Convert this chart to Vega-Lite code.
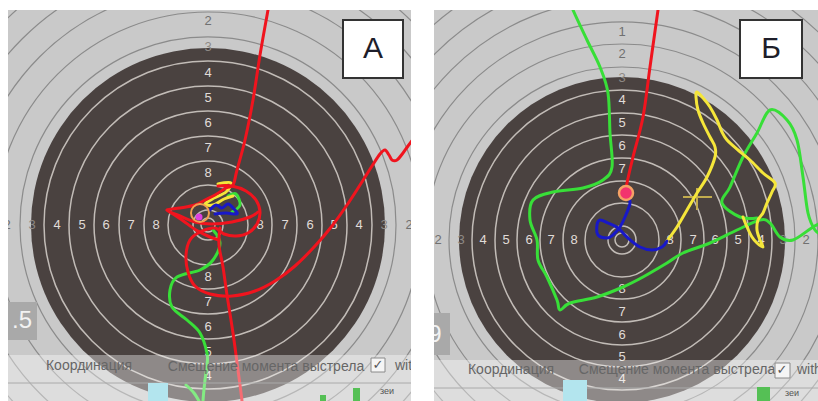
{
"$schema":"https://vega.github.io/schema/vega-lite/v6.json",
"background":"#ffffff",
"padding":{"left":8,"top":10,"right":0,"bottom":0},
"spacing":23,
"config":{"view":{"stroke":null,"fill":"#c9c9c9"},"text":{"font":"Liberation Sans"}},
"datasets":{
"ringsA":[{"x":0,"y":0,"r":7,"z":"in"},{"x":0,"y":0,"r":15,"z":"in"},{"x":0,"y":0,"r":40,"z":"in"},{"x":0,"y":0,"r":64,"z":"in"},{"x":0,"y":0,"r":89,"z":"in"},{"x":0,"y":0,"r":114,"z":"in"},{"x":0,"y":0,"r":139,"z":"in"},{"x":0,"y":0,"r":164,"z":"in"},{"x":0,"y":0,"r":188,"z":"out"},{"x":0,"y":0,"r":213,"z":"out"},{"x":0,"y":0,"r":238,"z":"out"},{"x":0,"y":0,"r":263,"z":"out"},{"x":0,"y":0,"r":288,"z":"out"}],
"ringsB":[{"x":0,"y":0,"r":7,"z":"in"},{"x":0,"y":0,"r":14,"z":"in"},{"x":0,"y":0,"r":37,"z":"in"},{"x":0,"y":0,"r":59,"z":"in"},{"x":0,"y":0,"r":82,"z":"in"},{"x":0,"y":0,"r":105,"z":"in"},{"x":0,"y":0,"r":127,"z":"in"},{"x":0,"y":0,"r":150,"z":"in"},{"x":0,"y":0,"r":173,"z":"out"},{"x":0,"y":0,"r":196,"z":"out"},{"x":0,"y":0,"r":218,"z":"out"},{"x":0,"y":0,"r":241,"z":"out"},{"x":0,"y":0,"r":264,"z":"out"},{"x":0,"y":0,"r":286,"z":"out"}],
"labelsA":[
{"x":-52,"y":0,"t":"8","z":"in"},{"x":-77,"y":0,"t":"7","z":"in"},{"x":-102,"y":0,"t":"6","z":"in"},{"x":-126,"y":0,"t":"5","z":"in"},{"x":-151,"y":0,"t":"4","z":"in"},{"x":-176,"y":0,"t":"3","z":"edge"},{"x":-201,"y":0,"t":"2","z":"out"},
{"x":52,"y":0,"t":"8","z":"in"},{"x":77,"y":0,"t":"7","z":"in"},{"x":102,"y":0,"t":"6","z":"in"},{"x":126,"y":0,"t":"5","z":"in"},{"x":151,"y":0,"t":"4","z":"in"},{"x":176,"y":0,"t":"3","z":"edge"},{"x":201,"y":0,"t":"2","z":"out"},
{"x":0,"y":52,"t":"8","z":"in"},{"x":0,"y":77,"t":"7","z":"in"},{"x":0,"y":102,"t":"6","z":"in"},{"x":0,"y":127,"t":"5","z":"in"},{"x":0,"y":152,"t":"4","z":"in"},{"x":0,"y":178,"t":"3","z":"edge"},{"x":0,"y":204,"t":"2","z":"out"},
{"x":0,"y":-52,"t":"8","z":"in"},{"x":0,"y":-77,"t":"7","z":"in"},{"x":0,"y":-102,"t":"6","z":"in"},{"x":0,"y":-127,"t":"5","z":"in"},{"x":0,"y":-151,"t":"4","z":"in"}],
"labelsB":[
{"x":-48,"y":0,"t":"8","z":"in"},{"x":-71,"y":0,"t":"7","z":"in"},{"x":-93,"y":0,"t":"6","z":"in"},{"x":-116,"y":0,"t":"5","z":"in"},{"x":-139,"y":0,"t":"4","z":"in"},{"x":-161,"y":0,"t":"3","z":"edge"},{"x":-184,"y":0,"t":"2","z":"out"},
{"x":48,"y":0,"t":"8","z":"in"},{"x":71,"y":0,"t":"7","z":"in"},{"x":93,"y":0,"t":"6","z":"in"},{"x":116,"y":0,"t":"5","z":"in"},{"x":139,"y":0,"t":"4","z":"in"},{"x":161,"y":0,"t":"3","z":"edge"},{"x":184,"y":0,"t":"2","z":"out"},
{"x":0,"y":48,"t":"8","z":"in"},{"x":0,"y":71,"t":"7","z":"in"},{"x":0,"y":94,"t":"6","z":"in"},{"x":0,"y":117,"t":"5","z":"in"},{"x":0,"y":140,"t":"4","z":"in"},{"x":0,"y":162,"t":"3","z":"edge"},{"x":0,"y":186,"t":"2","z":"out"},{"x":0,"y":208,"t":"1","z":"out"},
{"x":0,"y":-49,"t":"8","z":"in"},{"x":0,"y":-72,"t":"7","z":"in"},{"x":0,"y":-95,"t":"6","z":"in"},{"x":0,"y":-117,"t":"5","z":"in"},{"x":0,"y":-139,"t":"4","z":"in"}],
"aRed":[
{"s":1,"x":62,"y":225},{"s":1,"x":60,"y":215},{"s":1,"x":52,"y":170},{"s":1,"x":45,"y":125},{"s":1,"x":37,"y":85},{"s":1,"x":29,"y":55},{"s":1,"x":25,"y":40},{"s":1,"x":18,"y":37},{"s":1,"x":7,"y":30},{"s":1,"x":-3,"y":25},{"s":1,"x":-13,"y":20},{"s":1,"x":-28,"y":17},{"s":1,"x":-41,"y":15},{"s":1,"x":-28,"y":9},{"s":1,"x":-13,"y":3},{"s":1,"x":4,"y":1},{"s":1,"x":24,"y":3},{"s":1,"x":42,"y":8},{"s":1,"x":50,"y":13},
{"s":2,"x":10,"y":39},{"s":2,"x":24,"y":39},{"s":2,"x":38,"y":34},{"s":2,"x":48,"y":25},{"s":2,"x":52,"y":13},{"s":2,"x":49,"y":1},{"s":2,"x":40,"y":-8},{"s":2,"x":28,"y":-11},{"s":2,"x":16,"y":-9},{"s":2,"x":7,"y":-3},{"s":2,"x":-8,"y":-7},{"s":2,"x":-18,"y":-15},{"s":2,"x":-22,"y":-30},{"s":2,"x":-20,"y":-47},{"s":2,"x":-13,"y":-61},{"s":2,"x":2,"y":-69},{"s":2,"x":24,"y":-71},{"s":2,"x":47,"y":-66},{"s":2,"x":67,"y":-56},{"s":2,"x":87,"y":-41},{"s":2,"x":107,"y":-21},{"s":2,"x":124,"y":-1},{"s":2,"x":139,"y":20},{"s":2,"x":152,"y":40},{"s":2,"x":164,"y":59},{"s":2,"x":172,"y":71},{"s":2,"x":177,"y":75},{"s":2,"x":181,"y":70},{"s":2,"x":184,"y":65},{"s":2,"x":189,"y":65},{"s":2,"x":195,"y":72},{"s":2,"x":200,"y":79},{"s":2,"x":206,"y":87},
{"s":3,"x":-41,"y":15},{"s":3,"x":-26,"y":5},{"s":3,"x":-12,"y":-5},{"s":3,"x":2,"y":-12},{"s":3,"x":11,"y":-15},
{"s":4,"x":12,"y":-3},{"s":4,"x":11,"y":-20},{"s":4,"x":15,"y":-42},{"s":4,"x":19,"y":-70},{"s":4,"x":25,"y":-108},{"s":4,"x":30,"y":-145},{"s":4,"x":34,"y":-176},{"s":4,"x":35,"y":-190}],
"aGreen":[
{"s":1,"x":5,"y":-5},{"s":1,"x":12,"y":-18},{"s":1,"x":5,"y":-35},{"s":1,"x":-8,"y":-45},{"s":1,"x":-31,"y":-52},{"s":1,"x":-38,"y":-65},{"s":1,"x":-36,"y":-82},{"s":1,"x":-21,"y":-95},{"s":1,"x":-8,"y":-108},{"s":1,"x":-1,"y":-128},{"s":1,"x":-1,"y":-140},{"s":1,"x":-3,"y":-155},{"s":1,"x":-5,"y":-176},{"s":1,"x":-5,"y":-190},
{"s":2,"x":-22,"y":-160},{"s":2,"x":-14,"y":-168},{"s":2,"x":-8,"y":-178},
{"s":3,"x":20,"y":29},{"s":3,"x":28,"y":31},{"s":3,"x":32,"y":20},{"s":3,"x":24,"y":13}],
"aYellow":[{"s":1,"x":10,"y":41},{"s":1,"x":23,"y":42},{"s":1,"x":18,"y":33},{"s":1,"x":6,"y":27},{"s":1,"x":-3,"y":21},{"s":1,"x":5,"y":20},{"s":1,"x":16,"y":26},{"s":1,"x":25,"y":29}],
"aBlue":[{"s":1,"x":2,"y":15},{"s":1,"x":8,"y":20},{"s":1,"x":14,"y":17},{"s":1,"x":20,"y":21},{"s":1,"x":26,"y":16},{"s":1,"x":29,"y":11},{"s":1,"x":18,"y":12},{"s":1,"x":7,"y":11}],
"bRed":[{"s":1,"x":38,"y":240},{"s":1,"x":36,"y":230},{"s":1,"x":28,"y":173},{"s":1,"x":21,"y":123},{"s":1,"x":11,"y":83},{"s":1,"x":5,"y":57},{"s":1,"x":4,"y":47}],
"bBlue":[{"s":1,"x":5,"y":45},{"s":1,"x":8,"y":37},{"s":1,"x":3,"y":23},{"s":1,"x":-2,"y":13},{"s":1,"x":-9,"y":5},{"s":1,"x":-15,"y":2},{"s":1,"x":-24,"y":5},{"s":1,"x":-25,"y":15},{"s":1,"x":-22,"y":20},{"s":1,"x":-14,"y":17},{"s":1,"x":-4,"y":12},{"s":1,"x":6,"y":2},{"s":1,"x":18,"y":-7},{"s":1,"x":30,"y":-10},{"s":1,"x":40,"y":-7},{"s":1,"x":45,"y":-1}],
"bYellow":[{"s":1,"x":45,"y":-1},{"s":1,"x":55,"y":13},{"s":1,"x":65,"y":30},{"s":1,"x":75,"y":47},{"s":1,"x":85,"y":63},{"s":1,"x":93,"y":83},{"s":1,"x":93,"y":93},{"s":1,"x":88,"y":103},{"s":1,"x":81,"y":117},{"s":1,"x":76,"y":130},{"s":1,"x":74,"y":143},{"s":1,"x":75,"y":148},{"s":1,"x":81,"y":142},{"s":1,"x":88,"y":133},{"s":1,"x":95,"y":120},{"s":1,"x":100,"y":108},{"s":1,"x":105,"y":100},{"s":1,"x":116,"y":90},{"s":1,"x":128,"y":80},{"s":1,"x":141,"y":67},{"s":1,"x":153,"y":57},{"s":1,"x":150,"y":48},{"s":1,"x":145,"y":37},{"s":1,"x":141,"y":27},{"s":1,"x":136,"y":20},{"s":1,"x":135,"y":10},{"s":1,"x":138,"y":0},{"s":1,"x":141,"y":-7},{"s":1,"x":135,"y":-3},{"s":1,"x":130,"y":3},{"s":1,"x":125,"y":13},{"s":1,"x":121,"y":23}],
"bGreen":[
{"s":1,"x":-52,"y":240},{"s":1,"x":-49,"y":230},{"s":1,"x":-35,"y":200},{"s":1,"x":-22,"y":173},{"s":1,"x":-14,"y":147},{"s":1,"x":-12,"y":107},{"s":1,"x":-10,"y":73},{"s":1,"x":-19,"y":60},{"s":1,"x":-39,"y":52},{"s":1,"x":-69,"y":48},{"s":1,"x":-89,"y":40},{"s":1,"x":-92,"y":20},{"s":1,"x":-85,"y":0},{"s":1,"x":-84,"y":-20},{"s":1,"x":-75,"y":-37},{"s":1,"x":-65,"y":-60},{"s":1,"x":-62,"y":-70},{"s":1,"x":-52,"y":-63},{"s":1,"x":-25,"y":-57},{"s":1,"x":1,"y":-47},{"s":1,"x":21,"y":-37},{"s":1,"x":45,"y":-23},{"s":1,"x":61,"y":-13},{"s":1,"x":88,"y":-3},{"s":1,"x":115,"y":10},{"s":1,"x":138,"y":20},{"s":1,"x":148,"y":17},{"s":1,"x":158,"y":3},{"s":1,"x":171,"y":0},{"s":1,"x":191,"y":13},{"s":1,"x":200,"y":17},
{"s":2,"x":135,"y":22},{"s":2,"x":118,"y":23},{"s":2,"x":100,"y":37},{"s":2,"x":108,"y":53},{"s":2,"x":121,"y":83},{"s":2,"x":135,"y":107},{"s":2,"x":148,"y":130},{"s":2,"x":165,"y":120},{"s":2,"x":175,"y":100},{"s":2,"x":181,"y":63},{"s":2,"x":186,"y":27},{"s":2,"x":193,"y":10},{"s":2,"x":200,"y":6}]
},
"hconcat":[
{
"width":403,"height":391,
"encoding":{
"x":{"field":"x","type":"quantitative","axis":null,"scale":{"domain":[-200,203],"nice":false,"zero":false}},
"y":{"field":"y","type":"quantitative","axis":null,"scale":{"domain":[-176,215],"nice":false,"zero":false}}},
"layer":[
{"data":{"values":[{"x":0,"y":0,"r":177}]},"mark":{"type":"point","shape":"circle","filled":true,"color":"#4a4240","opacity":1,"strokeWidth":0,"clip":true},
 "encoding":{"size":{"field":"r","type":"quantitative","legend":null,"scale":{"type":"pow","exponent":2,"domain":[0,300],"range":[0,360000]}}}},
{"data":{"name":"ringsA"},"transform":[{"filter":"datum.z==='in'"}],"mark":{"type":"point","shape":"circle","filled":false,"color":"#c2bcb7","opacity":1,"strokeWidth":1.5,"clip":true},
 "encoding":{"size":{"field":"r","type":"quantitative","legend":null,"scale":{"type":"pow","exponent":2,"domain":[0,300],"range":[0,360000]}}}},
{"data":{"name":"ringsA"},"transform":[{"filter":"datum.z==='out'"}],"mark":{"type":"point","shape":"circle","filled":false,"color":"#8b8b8b","opacity":1,"strokeWidth":1.2,"clip":true},
 "encoding":{"size":{"field":"r","type":"quantitative","legend":null,"scale":{"type":"pow","exponent":2,"domain":[0,300],"range":[0,360000]}}}},
{"data":{"name":"labelsA"},"mark":{"type":"text","fontSize":13,"align":"center","baseline":"middle","clip":true},
 "encoding":{"text":{"field":"t"},"color":{"field":"z","type":"nominal","legend":null,"scale":{"domain":["in","edge","out"],"range":["#e0dcd8","#8e8985","#707070"]}}}},
{"data":{"name":"aGreen"},"mark":{"type":"line","color":"#38df38","strokeWidth":3,"interpolate":"cardinal","strokeCap":"round","strokeJoin":"round","clip":true},"encoding":{"detail":{"field":"s","type":"nominal"},"order":{"value":null}}},
{"data":{"name":"aYellow"},"mark":{"type":"line","color":"#f5e63a","strokeWidth":3,"interpolate":"cardinal","strokeCap":"round","strokeJoin":"round","clip":true},"encoding":{"detail":{"field":"s","type":"nominal"},"order":{"value":null}}},
{"data":{"name":"aBlue"},"mark":{"type":"line","color":"#1818c8","strokeWidth":3,"interpolate":"cardinal","strokeCap":"round","strokeJoin":"round","clip":true},"encoding":{"detail":{"field":"s","type":"nominal"},"order":{"value":null}}},
{"data":{"name":"aRed"},"mark":{"type":"line","color":"#f0141e","strokeWidth":3,"interpolate":"cardinal","strokeCap":"round","strokeJoin":"round","clip":true},"encoding":{"detail":{"field":"s","type":"nominal"},"order":{"value":null}}},
{"data":{"values":[{"x":-8,"y":12}]},"mark":{"type":"point","shape":"circle","filled":false,"color":"#f0a050","strokeWidth":2,"size":324,"opacity":1,"clip":true}},
{"data":{"values":[{"x":-9,"y":8}]},"mark":{"type":"point","shape":"circle","filled":true,"color":"#e040e0","size":49,"opacity":1,"clip":true}},
{"data":{"values":[{"x":135,"x2":195,"y":205,"y2":147}]},"mark":{"type":"rect","fill":"#ffffff","stroke":"#333333","strokeWidth":2,"clip":true},"encoding":{"x2":{"field":"x2"},"y2":{"field":"y2"}}},
{"data":{"values":[{"x":165,"y":176,"t":"А"}]},"mark":{"type":"text","fontSize":30,"color":"#1e1e2a","align":"center","baseline":"middle","clip":true},"encoding":{"text":{"field":"t"}}},
{"data":{"values":[{"x":-200,"x2":-171,"y":-77,"y2":-115}]},"mark":{"type":"rect","fill":"#a9a9a9","clip":true},"encoding":{"x2":{"field":"x2"},"y2":{"field":"y2"}}},
{"data":{"values":[{"x":-186,"y":-96,"t":".5"}]},"mark":{"type":"text","fontSize":24,"color":"#f2f2f2","align":"center","baseline":"middle","clip":true},"encoding":{"text":{"field":"t"}}},
{"data":{"values":[{"x":-200,"x2":203,"y":-130,"y2":-176}]},"mark":{"type":"rect","fill":"#ffffff","opacity":0.38,"clip":true},"encoding":{"x2":{"field":"x2"},"y2":{"field":"y2"}}},
{"data":{"values":[{"x":-200,"x2":203,"y":-158}]},"mark":{"type":"rule","color":"#aaaaaa","strokeWidth":1,"clip":true},"encoding":{"x2":{"field":"x2"}}},
{"data":{"values":[{"x":-119,"y":-141,"t":"Координация"},{"x":58,"y":-142,"t":"Смещение момента выстрела"}]},"mark":{"type":"text","fontSize":14,"color":"#666666","align":"center","baseline":"middle","clip":true},"encoding":{"text":{"field":"t"}}},
{"data":{"values":[{"x":163,"x2":177,"y":-133,"y2":-147}]},"mark":{"type":"rect","fill":"#f5f5f5","stroke":"#8a8a8a","strokeWidth":1,"clip":true},"encoding":{"x2":{"field":"x2"},"y2":{"field":"y2"}}},
{"data":{"values":[{"x":170,"y":-140,"t":"✓"}]},"mark":{"type":"text","font":"DejaVu Sans","fontSize":13,"color":"#555555","align":"center","baseline":"middle","clip":true},"encoding":{"text":{"field":"t"}}},
{"data":{"values":[{"x":187,"y":-141,"t":"with"}]},"mark":{"type":"text","fontSize":14,"color":"#666666","align":"left","baseline":"middle","clip":true},"encoding":{"text":{"field":"t"}}},
{"data":{"values":[{"x":-60,"x2":-40,"y":-158,"y2":-176}]},"mark":{"type":"rect","fill":"#b3e5ee","clip":true},"encoding":{"x2":{"field":"x2"},"y2":{"field":"y2"}}},
{"data":{"values":[{"x":112,"x2":118,"y":-170,"y2":-176},{"x":145,"x2":152,"y":-163,"y2":-176}]},"mark":{"type":"rect","fill":"#55c055","clip":true},"encoding":{"x2":{"field":"x2"},"y2":{"field":"y2"}}},
{"data":{"values":[{"x":172,"y":-166,"t":"зеи"}]},"mark":{"type":"text","fontSize":9,"color":"#555555","align":"left","baseline":"middle","clip":true},"encoding":{"text":{"field":"t"}}}
]},
{
"width":384,"height":391,
"encoding":{
"x":{"field":"x","type":"quantitative","axis":null,"scale":{"domain":[-188,196],"nice":false,"zero":false}},
"y":{"field":"y","type":"quantitative","axis":null,"scale":{"domain":[-161,230],"nice":false,"zero":false}}},
"layer":[
{"data":{"values":[{"x":0,"y":0,"r":163}]},"mark":{"type":"point","shape":"circle","filled":true,"color":"#4a4240","opacity":1,"strokeWidth":0,"clip":true},
 "encoding":{"size":{"field":"r","type":"quantitative","legend":null,"scale":{"type":"pow","exponent":2,"domain":[0,300],"range":[0,360000]}}}},
{"data":{"name":"ringsB"},"transform":[{"filter":"datum.z==='in'"}],"mark":{"type":"point","shape":"circle","filled":false,"color":"#c2bcb7","opacity":1,"strokeWidth":1.5,"clip":true},
 "encoding":{"size":{"field":"r","type":"quantitative","legend":null,"scale":{"type":"pow","exponent":2,"domain":[0,300],"range":[0,360000]}}}},
{"data":{"name":"ringsB"},"transform":[{"filter":"datum.z==='out'"}],"mark":{"type":"point","shape":"circle","filled":false,"color":"#8b8b8b","opacity":1,"strokeWidth":1.2,"clip":true},
 "encoding":{"size":{"field":"r","type":"quantitative","legend":null,"scale":{"type":"pow","exponent":2,"domain":[0,300],"range":[0,360000]}}}},
{"data":{"name":"labelsB"},"mark":{"type":"text","fontSize":13,"align":"center","baseline":"middle","clip":true},
 "encoding":{"text":{"field":"t"},"color":{"field":"z","type":"nominal","legend":null,"scale":{"domain":["in","edge","out"],"range":["#e0dcd8","#8e8985","#707070"]}}}},
{"data":{"values":[{"x":61,"x2":90,"y":43},{"x":75,"x2":75,"y":52,"y2":30}]},"mark":{"type":"rule","color":"#c2ac4e","strokeWidth":2,"clip":true},"encoding":{"x2":{"field":"x2"},"y2":{"field":"y2"}}},
{"data":{"name":"bGreen"},"mark":{"type":"line","color":"#38df38","strokeWidth":3,"interpolate":"cardinal","strokeCap":"round","strokeJoin":"round","clip":true},"encoding":{"detail":{"field":"s","type":"nominal"},"order":{"value":null}}},
{"data":{"name":"bYellow"},"mark":{"type":"line","color":"#f5e63a","strokeWidth":3,"interpolate":"cardinal","strokeCap":"round","strokeJoin":"round","clip":true},"encoding":{"detail":{"field":"s","type":"nominal"},"order":{"value":null}}},
{"data":{"name":"bBlue"},"mark":{"type":"line","color":"#1818c8","strokeWidth":3,"interpolate":"cardinal","strokeCap":"round","strokeJoin":"round","clip":true},"encoding":{"detail":{"field":"s","type":"nominal"},"order":{"value":null}}},
{"data":{"name":"bRed"},"mark":{"type":"line","color":"#f0141e","strokeWidth":3,"interpolate":"cardinal","strokeCap":"round","strokeJoin":"round","clip":true},"encoding":{"detail":{"field":"s","type":"nominal"},"order":{"value":null}}},
{"data":{"values":[{"x":4,"y":47}]},"mark":{"type":"point","shape":"circle","filled":true,"fill":"#f2346e","stroke":"#f5a265","strokeWidth":2.5,"size":196,"opacity":1,"clip":true}},
{"data":{"values":[{"x":118,"x2":180,"y":220,"y2":162}]},"mark":{"type":"rect","fill":"#ffffff","stroke":"#333333","strokeWidth":2,"clip":true},"encoding":{"x2":{"field":"x2"},"y2":{"field":"y2"}}},
{"data":{"values":[{"x":149,"y":191,"t":"Б"}]},"mark":{"type":"text","fontSize":30,"color":"#1e1e2a","align":"center","baseline":"middle","clip":true},"encoding":{"text":{"field":"t"}}},
{"data":{"values":[{"x":-188,"x2":-172,"y":-73,"y2":-115}]},"mark":{"type":"rect","fill":"#a9a9a9","clip":true},"encoding":{"x2":{"field":"x2"},"y2":{"field":"y2"}}},
{"data":{"values":[{"x":-187,"y":-95,"t":"9"}]},"mark":{"type":"text","fontSize":24,"color":"#f2f2f2","align":"center","baseline":"middle","clip":true},"encoding":{"text":{"field":"t"}}},
{"data":{"values":[{"x":-188,"x2":196,"y":-120,"y2":-161}]},"mark":{"type":"rect","fill":"#ffffff","opacity":0.38,"clip":true},"encoding":{"x2":{"field":"x2"},"y2":{"field":"y2"}}},
{"data":{"values":[{"x":-188,"x2":196,"y":-148}]},"mark":{"type":"rule","color":"#aaaaaa","strokeWidth":1,"clip":true},"encoding":{"x2":{"field":"x2"}}},
{"data":{"values":[{"x":-111,"y":-130,"t":"Координация"},{"x":55,"y":-130,"t":"Смещение момента выстрела"}]},"mark":{"type":"text","fontSize":14,"color":"#666666","align":"center","baseline":"middle","clip":true},"encoding":{"text":{"field":"t"}}},
{"data":{"values":[{"x":153,"x2":168,"y":-123,"y2":-138}]},"mark":{"type":"rect","fill":"#f5f5f5","stroke":"#8a8a8a","strokeWidth":1,"clip":true},"encoding":{"x2":{"field":"x2"},"y2":{"field":"y2"}}},
{"data":{"values":[{"x":160,"y":-130,"t":"✓"}]},"mark":{"type":"text","font":"DejaVu Sans","fontSize":13,"color":"#555555","align":"center","baseline":"middle","clip":true},"encoding":{"text":{"field":"t"}}},
{"data":{"values":[{"x":175,"y":-130,"t":"with"}]},"mark":{"type":"text","fontSize":14,"color":"#666666","align":"left","baseline":"middle","clip":true},"encoding":{"text":{"field":"t"}}},
{"data":{"values":[{"x":-59,"x2":-35,"y":-140,"y2":-161}]},"mark":{"type":"rect","fill":"#b3e5ee","clip":true},"encoding":{"x2":{"field":"x2"},"y2":{"field":"y2"}}},
{"data":{"values":[{"x":135,"x2":148,"y":-147,"y2":-161}]},"mark":{"type":"rect","fill":"#55c055","clip":true},"encoding":{"x2":{"field":"x2"},"y2":{"field":"y2"}}},
{"data":{"values":[{"x":163,"y":-153,"t":"зеи"}]},"mark":{"type":"text","fontSize":9,"color":"#555555","align":"left","baseline":"middle","clip":true},"encoding":{"text":{"field":"t"}}}
]}
]
}
